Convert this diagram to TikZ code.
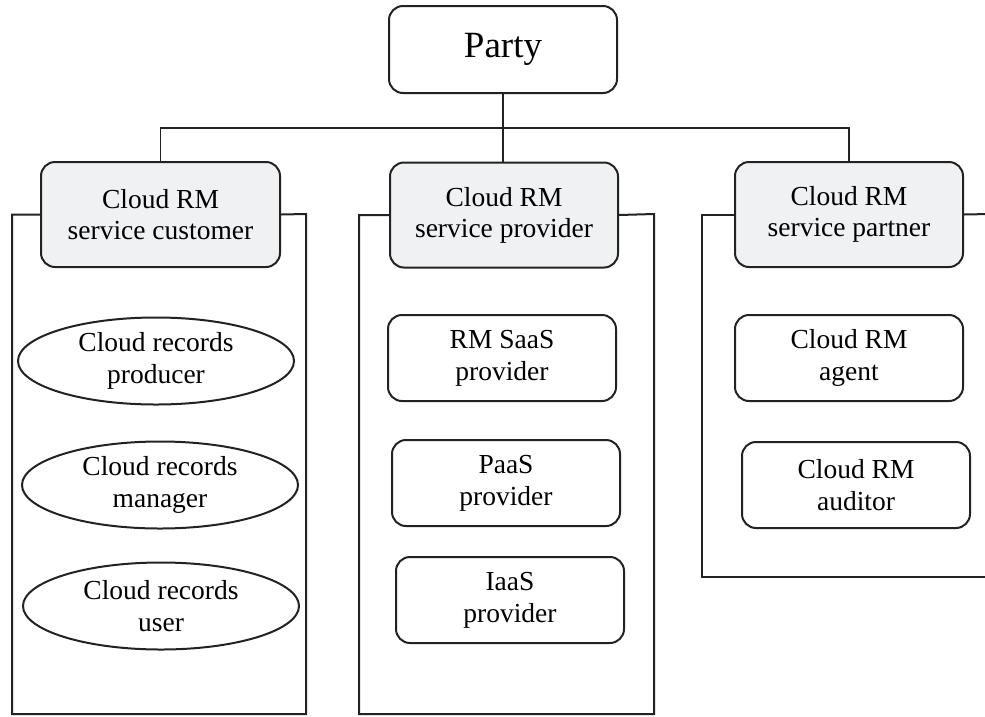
\documentclass[tikz,border=0pt]{standalone}
\usepackage{fontspec}
\setmainfont{Liberation Serif}
\usetikzlibrary{shapes.geometric,positioning}
\definecolor{headfill}{HTML}{F0F1F3}
\definecolor{edge}{HTML}{222222}
\tikzset{
  party/.style={draw=edge,line width=2pt,rounded corners=14pt,minimum width=228pt,minimum height=87pt,inner sep=0pt,font=\fontsize{37}{44}\selectfont},
  head/.style={draw=edge,line width=2pt,rounded corners=14pt,fill=headfill,align=center,minimum height=105pt,inner sep=0pt,font=\fontsize{27.5}{31}\selectfont},
  role/.style={draw=edge,line width=2pt,rounded corners=14pt,align=center,minimum width=228pt,minimum height=86pt,inner sep=0pt,font=\fontsize{27.5}{32}\selectfont},
  actor/.style={draw=edge,line width=2pt,ellipse,align=center,minimum width=276pt,minimum height=87pt,inner sep=0pt,font=\fontsize{27.5}{32}\selectfont},
  frame/.style={draw=edge,line width=2pt},
  link/.style={draw=edge,line width=1.1pt}
}
\begin{document}
\begin{tikzpicture}[x=1pt,y=-1pt]
\useasboundingbox (0,0) rectangle (985,716);
\clip (0,0) rectangle (985,716);
% top of the tree
\node[party](party) at (503,49.5){Party};
\node[head,minimum width=239pt](cust) at (160.5,214.5){Cloud RM\\service customer};
\node[head,minimum width=228pt](prov) at (504,215){Cloud RM\\service provider};
\node[head,minimum width=228pt](part) at (849,214.5){Cloud RM\\service partner};
\coordinate (bus) at (503,128);
\draw[link](cust.north) |- (bus) -| (part.north);
\draw[link](party.south) -- (party.south |- prov.north);
% frames under the headers
\draw[frame](cust.west) -| (12,714) -| (306,214) -- (cust.east);
\draw[frame](prov.west) -| (359,714) -| (654,214) -- (prov.east);
\draw[frame](part.west) -| (702,577) -- (990,577);
\draw[frame](part.east) -- (990,214);
% customer column
\node[actor](prod) at (156,361){Cloud records\\producer};
\node[actor](mgr) at (160,485){Cloud records\\manager};
\node[actor](user) at (161,606){Cloud records\\user};
% provider column
\node[role](saas) at (502,358){RM SaaS\\provider};
\node[role](paas) at (506,483){PaaS\\provider};
\node[role](iaas) at (510,600){IaaS\\provider};
% partner column
\node[role](agent) at (849,358){Cloud RM\\agent};
\node[role](audit) at (856,485){Cloud RM\\auditor};
\end{tikzpicture}
\end{document}
